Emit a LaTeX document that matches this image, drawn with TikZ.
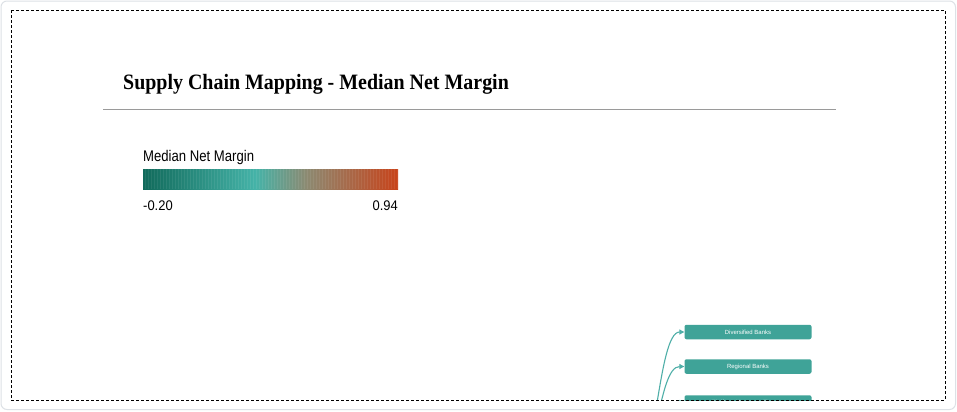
\documentclass[tikz,border=0pt]{standalone}
\usepackage{fontspec}
\setmainfont{Liberation Serif}
\newfontfamily\arialf{Liberation Sans}
\usetikzlibrary{arrows.meta}
\definecolor{frameGray}{HTML}{DDE1E6}
\definecolor{ruleGray}{HTML}{9A9A9A}
\definecolor{boxTeal}{HTML}{3FA398}
\definecolor{linkTeal}{HTML}{4FAFA8}
\definecolor{cA}{HTML}{116A5B}
\definecolor{cB}{HTML}{45B3A8}
\definecolor{cC}{HTML}{8C8A72}
\definecolor{cD}{HTML}{C8431A}
\pgfdeclarehorizontalshading{nmbar}{100bp}{color(0bp)=(cA); color(25bp)=(cA); color(47bp)=(cB); color(57bp)=(cC); color(75bp)=(cD); color(100bp)=(cD)}
\tikzset{
  bankbox/.style={draw=none, fill=boxTeal, rounded corners=2bp, minimum width=127bp, minimum height=14.5bp, inner sep=0pt, text=white, font=\arialf\fontsize{6}{7}\selectfont},
  link/.style={draw=linkTeal, line width=1.1bp, -{Triangle[length=5bp,width=5bp]}},
  ttl/.style={inner sep=0pt, font=\fontsize{22}{26}\selectfont\bfseries},
  lgd/.style={inner sep=0pt, font=\arialf\fontsize{15.5}{18}\selectfont},
  num/.style={inner sep=0pt, font=\arialf\fontsize{14}{16}\selectfont}
}
\begin{document}
\begin{tikzpicture}[x=1bp,y=-1bp]
\useasboundingbox (0,0) rectangle (957,411);
\fill[white] (0,0) rectangle (957,411);
\draw[frameGray, line width=1bp, rounded corners=6bp] (1,1) rectangle (955.5,409.5);
\node[ttl, anchor=base west] (title) at (123,89) {\scalebox{0.91}[1]{Supply Chain Mapping - Median Net Margin}};
\draw[ruleGray, line width=0.8bp] (103,109) -- (836,109);
\node[lgd, anchor=base west] (lgdlabel) at (143,161) {\scalebox{0.85}[1]{Median Net Margin}};
\shade[shading=nmbar] (143,169) rectangle (398,189);
\foreach \i in {0,...,84}{
  \fill[white, opacity=0.07] ({144.5+3*\i},169) rectangle ({145.3+3*\i},189);
}
\node[num, anchor=base west] (vmin) at (143,210) {\scalebox{0.93}[1]{-0.20}};
\node[num, anchor=base east] (vmax) at (398,210) {\scalebox{0.93}[1]{0.94}};
\begin{scope}
\clip (11,10) rectangle (945,400);
\coordinate (src) at (630,480);
\node[bankbox] (div) at (748,332) {Diversified Banks};
\node[bankbox] (reg) at (748,366.5) {Regional Banks};
\node[bankbox] (thr) at (748,402.5) {Thrifts \& Mortgage Finance};
\draw[link] (src) .. controls (657,480) and (657,332) .. (div.west);
\draw[link] (src) .. controls (657,480) and (657,366.5) .. (reg.west);
\draw[link] (src) .. controls (657,480) and (657,402.5) .. (thr.west);
\end{scope}
\draw[black, line width=0.8bp, dash pattern=on 3bp off 2bp] (11,10) rectangle (945,400);
\end{tikzpicture}
\end{document}
